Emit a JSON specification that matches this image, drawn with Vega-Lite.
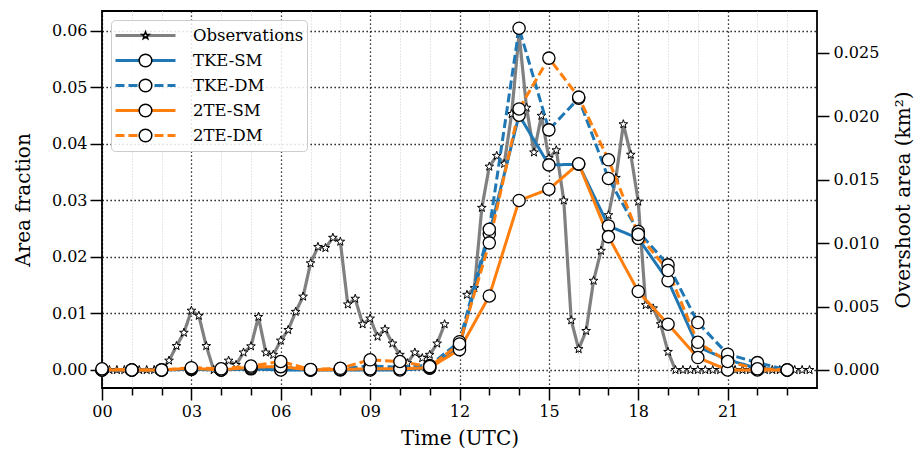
{
  "$schema": "https://vega.github.io/schema/vega-lite/v6.json",
  "width": 715,
  "height": 377,
  "autosize": {"type": "none"},
  "padding": {"left": 102, "top": 11, "right": 101, "bottom": 63},
  "background": "white",
  "config": {
    "font": "DejaVu Serif",
    "view": {"stroke": "black", "strokeWidth": 1.8},
    "axis": {"labelFont": "DejaVu Serif", "titleFont": "DejaVu Serif", "labelColor": "black", "titleColor": "black", "titleFontWeight": "normal", "tickColor": "black", "tickWidth": 1.5, "domain": false, "labelFontSize": 16, "titleFontSize": 20},
    "legend": {"labelFont": "DejaVu Serif", "labelColor": "black"}
  },
  "datasets": {
    "obs": [
      {"h":0,"s":"Observations","v":0},{"h":0.25,"s":"Observations","v":0},{"h":0.5,"s":"Observations","v":0},{"h":0.75,"s":"Observations","v":0},
      {"h":1,"s":"Observations","v":0},{"h":1.25,"s":"Observations","v":0},{"h":1.5,"s":"Observations","v":0},{"h":1.75,"s":"Observations","v":0},
      {"h":2,"s":"Observations","v":0},{"h":2.25,"s":"Observations","v":0.00074},{"h":2.5,"s":"Observations","v":0.00189},{"h":2.75,"s":"Observations","v":0.00294},
      {"h":3,"s":"Observations","v":0.00468},{"h":3.25,"s":"Observations","v":0.00428},{"h":3.5,"s":"Observations","v":0.00189},{"h":3.75,"s":"Observations","v":0},
      {"h":4,"s":"Observations","v":0},{"h":4.25,"s":"Observations","v":0.00074},{"h":4.5,"s":"Observations","v":0.0004},{"h":4.75,"s":"Observations","v":0.00138},
      {"h":5,"s":"Observations","v":0.00187},{"h":5.25,"s":"Observations","v":0.00419},{"h":5.5,"s":"Observations","v":0.00138},{"h":5.75,"s":"Observations","v":0.0012},
      {"h":6,"s":"Observations","v":0.00232},{"h":6.25,"s":"Observations","v":0.00316},{"h":6.5,"s":"Observations","v":0.00459},{"h":6.75,"s":"Observations","v":0.00579},
      {"h":7,"s":"Observations","v":0.00842},{"h":7.25,"s":"Observations","v":0.00971},{"h":7.5,"s":"Observations","v":0.00962},{"h":7.75,"s":"Observations","v":0.01043},
      {"h":8,"s":"Observations","v":0.01012},{"h":8.25,"s":"Observations","v":0.00517},{"h":8.5,"s":"Observations","v":0.00562},{"h":8.75,"s":"Observations","v":0.00361},
      {"h":9,"s":"Observations","v":0.00406},{"h":9.25,"s":"Observations","v":0.00263},{"h":9.5,"s":"Observations","v":0.00321},{"h":9.75,"s":"Observations","v":0.00209},
      {"h":10,"s":"Observations","v":0.0012},{"h":10.25,"s":"Observations","v":0.00054},{"h":10.5,"s":"Observations","v":0.00138},{"h":10.75,"s":"Observations","v":0.00094},
      {"h":11,"s":"Observations","v":0.0012},{"h":11.25,"s":"Observations","v":0.00209},{"h":11.5,"s":"Observations","v":0.00361},{"h":11.75,"s":"Observations","v":null},
      {"h":12,"s":"Observations","v":null},{"h":12.25,"s":"Observations","v":0.00593},{"h":12.5,"s":"Observations","v":0.00646},{"h":12.75,"s":"Observations","v":0.01279},
      {"h":13,"s":"Observations","v":0.01604},{"h":13.25,"s":"Observations","v":0.01689},{"h":13.5,"s":"Observations","v":0.01626},{"h":13.75,"s":"Observations","v":0.02019},
      {"h":14,"s":"Observations","v":0.02651},{"h":14.25,"s":"Observations","v":0.02068},{"h":14.5,"s":"Observations","v":0.01716},{"h":14.75,"s":"Observations","v":0.02005},
      {"h":15,"s":"Observations","v":0.01671},{"h":15.25,"s":"Observations","v":0.01733},{"h":15.5,"s":"Observations","v":0.01337},{"h":15.75,"s":"Observations","v":0.00392},
      {"h":16,"s":"Observations","v":0.00165},{"h":16.25,"s":"Observations","v":0.00308},{"h":16.5,"s":"Observations","v":0.00704},{"h":16.75,"s":"Observations","v":0.0094},
      {"h":17,"s":"Observations","v":0.01221},{"h":17.25,"s":"Observations","v":0.01515},{"h":17.5,"s":"Observations","v":0.01938},{"h":17.75,"s":"Observations","v":0.01698},
      {"h":18,"s":"Observations","v":0.01328},{"h":18.25,"s":"Observations","v":0.00512},{"h":18.5,"s":"Observations","v":0.00486},{"h":18.75,"s":"Observations","v":0.00361},
      {"h":19,"s":"Observations","v":0.00143},{"h":19.25,"s":"Observations","v":0},{"h":19.5,"s":"Observations","v":0},{"h":19.75,"s":"Observations","v":0},
      {"h":20,"s":"Observations","v":0},{"h":20.25,"s":"Observations","v":0},{"h":20.5,"s":"Observations","v":0},{"h":20.75,"s":"Observations","v":0},
      {"h":21,"s":"Observations","v":0},{"h":21.25,"s":"Observations","v":0},{"h":21.5,"s":"Observations","v":0},{"h":21.75,"s":"Observations","v":0},
      {"h":22,"s":"Observations","v":0},{"h":22.25,"s":"Observations","v":0},{"h":22.5,"s":"Observations","v":0},{"h":22.75,"s":"Observations","v":0},
      {"h":23,"s":"Observations","v":0},{"h":23.25,"s":"Observations","v":0},{"h":23.5,"s":"Observations","v":0},{"h":23.75,"s":"Observations","v":0}
    ],
    "models": [
      {"h":0,"s":"TKE-SM","v":0},{"h":1,"s":"TKE-SM","v":0},{"h":2,"s":"TKE-SM","v":0},{"h":3,"s":"TKE-SM","v":0.0001},{"h":4,"s":"TKE-SM","v":0},{"h":5,"s":"TKE-SM","v":0.0002},
      {"h":6,"s":"TKE-SM","v":0},{"h":7,"s":"TKE-SM","v":0},{"h":8,"s":"TKE-SM","v":0},{"h":9,"s":"TKE-SM","v":0},{"h":10,"s":"TKE-SM","v":0},{"h":11,"s":"TKE-SM","v":0.0003},
      {"h":12,"s":"TKE-SM","v":0.0042},{"h":13,"s":"TKE-SM","v":0.0241},{"h":14,"s":"TKE-SM","v":0.0451},{"h":15,"s":"TKE-SM","v":0.0363},{"h":16,"s":"TKE-SM","v":0.0364},{"h":17,"s":"TKE-SM","v":0.0255},
      {"h":18,"s":"TKE-SM","v":0.0233},{"h":19,"s":"TKE-SM","v":0.0158},{"h":20,"s":"TKE-SM","v":0.0041},{"h":21,"s":"TKE-SM","v":0.0018},{"h":22,"s":"TKE-SM","v":0.0003},{"h":23,"s":"TKE-SM","v":0},
      {"h":0,"s":"TKE-DM","v":0},{"h":1,"s":"TKE-DM","v":0},{"h":2,"s":"TKE-DM","v":0},{"h":3,"s":"TKE-DM","v":0.0002},{"h":4,"s":"TKE-DM","v":0},{"h":5,"s":"TKE-DM","v":0.0003},
      {"h":6,"s":"TKE-DM","v":0.0006},{"h":7,"s":"TKE-DM","v":0},{"h":8,"s":"TKE-DM","v":0.0002},{"h":9,"s":"TKE-DM","v":0.0007},{"h":10,"s":"TKE-DM","v":0.0005},{"h":11,"s":"TKE-DM","v":0.0008},
      {"h":12,"s":"TKE-DM","v":0.005},{"h":13,"s":"TKE-DM","v":0.0249},{"h":14,"s":"TKE-DM","v":0.0605},{"h":15,"s":"TKE-DM","v":0.0425},{"h":16,"s":"TKE-DM","v":0.0481},{"h":17,"s":"TKE-DM","v":0.0339},
      {"h":18,"s":"TKE-DM","v":0.0245},{"h":19,"s":"TKE-DM","v":0.0186},{"h":20,"s":"TKE-DM","v":0.0084},{"h":21,"s":"TKE-DM","v":0.0028},{"h":22,"s":"TKE-DM","v":0.0013},{"h":23,"s":"TKE-DM","v":0},
      {"h":0,"s":"2TE-SM","v":0},{"h":1,"s":"2TE-SM","v":0},{"h":2,"s":"2TE-SM","v":0},{"h":3,"s":"2TE-SM","v":0.0003},{"h":4,"s":"2TE-SM","v":0},{"h":5,"s":"2TE-SM","v":0.0005},
      {"h":6,"s":"2TE-SM","v":0.0006},{"h":7,"s":"2TE-SM","v":0},{"h":8,"s":"2TE-SM","v":0.0001},{"h":9,"s":"2TE-SM","v":0.0002},{"h":10,"s":"2TE-SM","v":0.0002},{"h":11,"s":"2TE-SM","v":0.0004},
      {"h":12,"s":"2TE-SM","v":0.0036},{"h":13,"s":"2TE-SM","v":0.0131},{"h":14,"s":"2TE-SM","v":0.03},{"h":15,"s":"2TE-SM","v":0.032},{"h":16,"s":"2TE-SM","v":0.0365},{"h":17,"s":"2TE-SM","v":0.0236},
      {"h":18,"s":"2TE-SM","v":0.0139},{"h":19,"s":"2TE-SM","v":0.0081},{"h":20,"s":"2TE-SM","v":0.0022},{"h":21,"s":"2TE-SM","v":0},{"h":22,"s":"2TE-SM","v":0},{"h":23,"s":"2TE-SM","v":0},
      {"h":0,"s":"2TE-DM","v":0.0002},{"h":1,"s":"2TE-DM","v":0},{"h":2,"s":"2TE-DM","v":0},{"h":3,"s":"2TE-DM","v":0.0004},{"h":4,"s":"2TE-DM","v":0.0002},{"h":5,"s":"2TE-DM","v":0.0007},
      {"h":6,"s":"2TE-DM","v":0.0015},{"h":7,"s":"2TE-DM","v":0.0001},{"h":8,"s":"2TE-DM","v":0.0003},{"h":9,"s":"2TE-DM","v":0.0018},{"h":10,"s":"2TE-DM","v":0.0015},{"h":11,"s":"2TE-DM","v":0.0006},
      {"h":12,"s":"2TE-DM","v":0.0046},{"h":13,"s":"2TE-DM","v":0.0225},{"h":14,"s":"2TE-DM","v":0.0462},{"h":15,"s":"2TE-DM","v":0.0552},{"h":16,"s":"2TE-DM","v":0.0483},{"h":17,"s":"2TE-DM","v":0.0372},
      {"h":18,"s":"2TE-DM","v":0.024},{"h":19,"s":"2TE-DM","v":0.0176},{"h":20,"s":"2TE-DM","v":0.0049},{"h":21,"s":"2TE-DM","v":0.0015},{"h":22,"s":"2TE-DM","v":0.0002},{"h":23,"s":"2TE-DM","v":0}
    ]
  },
  "encoding": {
    "x": {
      "field": "h", "type": "quantitative",
      "scale": {"domain": [0, 24], "nice": false, "zero": false},
      "axis": {
        "title": "Time (UTC)", "titlePadding": 9,
        "values": [0,1,2,3,4,5,6,7,8,9,10,11,12,13,14,15,16,17,18,19,20,21,22,23],
        "labelExpr": "datum.value % 3 === 0 ? (datum.value < 10 ? '0' + datum.value : '' + datum.value) : ''",
        "labelOverlap": false, "labelFlush": false, "labelPadding": 3,
        "tickSize": {"condition": {"test": "datum.value % 3 === 0", "value": 12}, "value": 7},
        "grid": true,
        "gridColor": {"condition": {"test": "datum.value % 3 === 0", "value": "#000000"}, "value": "#cfcfcf"},
        "gridDash": {"condition": {"test": "datum.value % 3 === 0", "value": [1.3, 2.7]}, "value": [1, 2]},
        "gridWidth": {"condition": {"test": "datum.value % 3 === 0", "value": 1.3}, "value": 1}
      }
    }
  },
  "layer": [
    {
      "data": {"name": "obs"},
      "encoding": {
        "y": {
          "field": "v", "type": "quantitative",
          "scale": {"domain": [-0.00142, 0.02831], "nice": false, "zero": false},
          "axis": {"orient": "right", "title": "Overshoot area (km²)", "titleAngle": 270, "titleBaseline": "top", "titlePadding": 15, "values": [0, 0.005, 0.01, 0.015, 0.02, 0.025], "format": ".3f", "grid": false, "tickSize": 12, "labelPadding": 4}
        }
      },
      "layer": [
        {
          "mark": {"type": "line", "strokeWidth": 3.2, "invalid": "break-paths-show-domains"},
          "encoding": {
            "color": {"field": "s", "type": "nominal", "scale": {"domain": ["Observations","TKE-SM","TKE-DM","2TE-SM","2TE-DM"], "range": ["#808080","#1f77b4","#1f77b4","#ff7f0e","#ff7f0e"]}, "legend": {"orient": "none", "legendX": 9, "legendY": 9, "title": null, "symbolType": "stroke", "symbolSize": 3600, "symbolStrokeWidth": 3, "clipHeight": 25, "rowPadding": 0, "padding": 3, "labelFontSize": 16.5, "labelOffset": 16, "strokeColor": "#cccccc", "fillColor": "rgba(255,255,255,0.85)", "cornerRadius": 4}},
            "strokeDash": {"field": "s", "type": "nominal", "scale": {"domain": ["Observations","TKE-SM","TKE-DM","2TE-SM","2TE-DM"], "range": [[1,0],[1,0],[9,4],[1,0],[9,4]]}, "legend": {"orient": "none", "legendX": 9, "legendY": 9, "title": null, "symbolType": "stroke", "symbolSize": 3600, "symbolStrokeWidth": 3, "clipHeight": 25, "rowPadding": 0, "padding": 3, "labelFontSize": 16.5, "labelOffset": 16, "strokeColor": "#cccccc", "fillColor": "rgba(255,255,255,0.85)", "cornerRadius": 4}}
          }
        },
        {
          "mark": {"type": "point", "filled": true, "fill": "white", "stroke": "black", "strokeWidth": 1, "size": 230, "opacity": 1},
          "encoding": {
            "shape": {"field": "s", "type": "nominal", "scale": {"domain": ["Observations","TKE-DM","TKE-SM","2TE-DM","2TE-SM"], "range": ["M0,-0.6L0.141,-0.194L0.571,-0.185L0.228,0.074L0.353,0.485L0,0.24L-0.353,0.485L-0.228,0.074L-0.571,-0.185L-0.141,-0.194Z","circle","circle","circle","circle"]}, "legend": {"orient": "none", "legendX": 36, "legendY": 12, "title": null, "symbolSize": 160, "clipHeight": 25, "rowPadding": 0, "padding": 0, "labelExpr": "''", "labelFontSize": 1, "labelOffset": 0, "encode": {"symbols": {"stroke": {"value": "black"}, "strokeWidth": {"value": 1.3}, "strokeOpacity": {"value": 1}, "fill": {"value": "white"}, "fillOpacity": {"value": 1}, "opacity": {"value": 1}}}}}
          }
        }
      ]
    },
    {
      "data": {"name": "models"},
      "encoding": {
        "y": {
          "field": "v", "type": "quantitative",
          "scale": {"domain": [-0.00319, 0.06354], "nice": false, "zero": false},
          "axis": {"orient": "left", "title": "Area fraction", "titlePadding": 18, "values": [0, 0.01, 0.02, 0.03, 0.04, 0.05, 0.06], "format": ".2f", "grid": true, "gridColor": "#000000", "gridDash": [1.3, 2.7], "gridWidth": 1.3, "tickSize": 12, "labelPadding": 3}
        }
      },
      "layer": [
        {
          "mark": {"type": "line", "strokeWidth": 3},
          "encoding": {
            "color": {"field": "s", "type": "nominal"},
            "strokeDash": {"field": "s", "type": "nominal"}
          }
        },
        {
          "mark": {"type": "point", "filled": true, "fill": "white", "stroke": "black", "strokeWidth": 1.3, "size": 150, "opacity": 1},
          "encoding": {
            "shape": {"field": "s", "type": "nominal"}
          }
        }
      ]
    }
  ],
  "resolve": {"scale": {"y": "independent"}}
}
